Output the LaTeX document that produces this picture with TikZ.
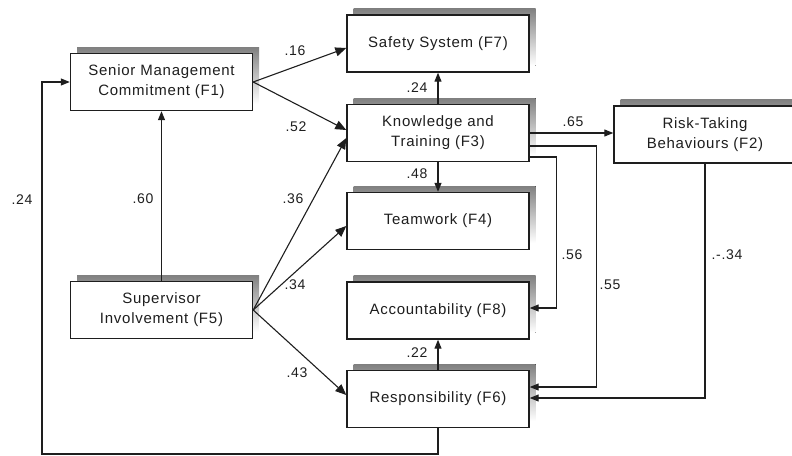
\documentclass[tikz,border=0pt]{standalone}
\usepackage{fontspec}
\newfontfamily\labfont{Liberation Sans}[LetterSpace=5]
\usetikzlibrary{arrows.meta}
\definecolor{shade}{RGB}{138,138,138}
\definecolor{ink}{RGB}{30,30,30}
\begin{document}
\begin{tikzpicture}[x=1pt,y=-1pt,
  factor/.style={draw=ink,line width=1.4pt,fill=white,minimum width=182pt,minimum height=57pt,
    inner sep=0pt,align=center,text=ink,font=\labfont\fontsize{15}{20}\selectfont},
  shadowbox/.style={fill=shade,draw=none},
  coef/.style={text=ink,inner sep=0pt,font=\labfont\fontsize{14}{16}\selectfont},
  arr/.style={draw=ink,line width=1.1pt,-{Triangle[length=9pt,width=7pt]}},
  arrbig/.style={draw=ink,line width=1.1pt,-{Triangle[length=11pt,width=9pt]}}]
\useasboundingbox (0,0) rectangle (792,455);
% shadows
\foreach \cx/\cy in {161.5/82, 161.5/310, 438/43.5, 438/133, 438/221, 438/310.5, 438/399, 705/134.5}
  \fill[shade] (\cx-91+6.5,\cy-28.5-6.5) rectangle (\cx+91+6.5,\cy+28.5-6.5);
% boxes
\node[factor] (F1) at (161.5,82) {Senior Management\\Commitment (F1)};
\node[factor] (F5) at (161.5,310) {Supervisor\\Involvement (F5)};
\node[factor] (F7) at (438,43.5) {Safety System (F7)};
\node[factor] (F3) at (438,133) {Knowledge and\\Training (F3)};
\node[factor] (F4) at (438,221) {Teamwork (F4)};
\node[factor] (F8) at (438,310.5) {Accountability (F8)};
\node[factor] (F6) at (438,399) {Responsibility (F6)};
\node[factor] (F2) at (705,134.5) {Risk-Taking\\Behaviours (F2)};
% helper coordinates
\coordinate (c24) at (42,454);
\coordinate (s55) at ([yshift=-13pt]F3.east);
\coordinate (e55) at ([yshift=12pt]F6.east);
\coordinate (t55) at ([xshift=67pt]e55);
\coordinate (s56) at ([yshift=-24pt]F3.east);
\coordinate (e56) at ([yshift=2.5pt]F8.east);
\coordinate (t56) at ([xshift=27pt]e56);
\coordinate (e34) at ([yshift=1pt]F6.east);
% connectors
\draw[arrbig] (F1.east) -- ([yshift=-4.5pt]F7.west);
\draw[arrbig] (F1.east) -- ([yshift=3pt]F3.west);
\draw[arrbig] (F5.east) -- ([yshift=-5pt]F3.west);
\draw[arrbig] (F5.east) -- ([yshift=-5pt]F4.west);
\draw[arrbig] (F5.east) -- ([yshift=4pt]F6.west);
\draw[arr] (F5.north) -- (F1.south);
\draw[arr] (F6.south) |- (c24) |- (F1.west);
\draw[arr] (F3.north) -- (F7.south);
\draw[arr] (F3.south) -- (F4.north);
\draw[arr] (F6.north) -- (F8.south);
\draw[arr] (F3.east) -- (F3.east -| F2.west);
\draw[arr] (s55) -| (t55) -- (e55);
\draw[arr] (s56) -| (t56) -- (e56);
\draw[arr] (F2.south) |- (e34);
% coefficients
\node[coef] (k16) at (295,51) {.16};
\node[coef] (k52) at (296,127) {.52};
\node[coef] (k36) at (293,199) {.36};
\node[coef] (k34) at (295,285) {.34};
\node[coef] (k43) at (297,373) {.43};
\node[coef] (k60) at (143,199) {.60};
\node[coef] (k24a) at (22,200) {.24};
\node[coef] (k24b) at (417,88) {.24};
\node[coef] (k48) at (417,174) {.48};
\node[coef] (k65) at (573,122) {.65};
\node[coef] (k56) at (572,255) {.56};
\node[coef] (k55) at (610,285) {.55};
\node[coef] (km34) at (727,255) {.-.34};
\node[coef] (k22) at (417,353) {.22};
\end{tikzpicture}
\end{document}
